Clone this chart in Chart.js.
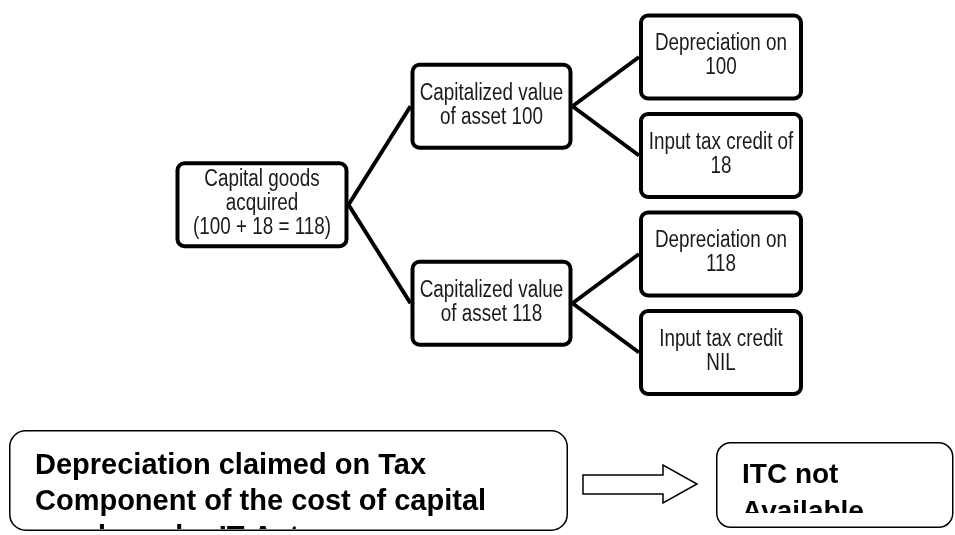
<!DOCTYPE html>
<html>
<head>
<meta charset="utf-8">
<script src="https://cdn.jsdelivr.net/npm/chart.js@4/dist/chart.umd.min.js"></script>
<style>
  html, body { margin: 0; padding: 0; background: #fff; }
  #wrap { width: 955px; height: 535px; }
</style>
</head>
<body>
<div id="wrap"><canvas id="treeChart"></canvas></div>
<script>
// Tree nodes
const nodeLabels = [
  ["Capital goods", "acquired", "(100 + 18 = 118)"],
  ["Capitalized value", "of asset 100"],
  ["Capitalized value", "of asset 118"],
  ["Depreciation on", "100"],
  ["Input tax credit of", "18"],
  ["Depreciation on", "118"],
  ["Input tax credit", "NIL"]
];
const nodeLevel = [0, 1, 1, 2, 2, 2, 2];
const nodeRow = [1.5, 0.5, 2.5, 0, 1, 2, 3];
const nodeParent = [null, 0, 0, 1, 1, 2, 2];

// Note under the tree
const noteFrom = ["Depreciation claimed on Tax", "Component of the cost of capital", "goods under IT Act"];
const noteTo = ["ITC not", "Available"];

const boxW = [173, 162, 164];
const boxH = 87;

const treePlugin = {
  id: "tree",
  afterDatasetsDraw(chart) {
    const ctx = chart.ctx;
    const xs = chart.scales.x, ys = chart.scales.y;
    const pos = nodeLevel.map((l, i) => ({
      x: xs.getPixelForValue(l),
      y: ys.getPixelForValue(nodeRow[i]),
      w: boxW[l]
    }));

    ctx.save();
    // connectors
    ctx.strokeStyle = "#000";
    ctx.lineWidth = 4;
    nodeParent.forEach((p, i) => {
      if (p === null) return;
      ctx.beginPath();
      ctx.moveTo(pos[p].x + pos[p].w / 2, pos[p].y);
      ctx.lineTo(pos[i].x - pos[i].w / 2, pos[i].y);
      ctx.stroke();
    });

    // boxes + text
    pos.forEach((b, i) => {
      ctx.beginPath();
      ctx.roundRect(b.x - b.w / 2 + 2, b.y - boxH / 2 + 2, b.w - 4, boxH - 4, 7);
      ctx.fillStyle = "#fff";
      ctx.fill();
      ctx.lineWidth = 4;
      ctx.stroke();

      const lines = nodeLabels[i];
      ctx.fillStyle = "#1a1a1a";
      ctx.font = "23px 'Liberation Sans', Arial, sans-serif";
      ctx.textAlign = "center";
      ctx.textBaseline = "middle";
      lines.forEach((t, k) => {
        const ty = b.y - 1 + (k - (lines.length - 1) / 2) * 24;
        ctx.save();
        ctx.translate(b.x, ty);
        ctx.scale(0.82, 1);
        ctx.fillText(t, 0, 0);
        ctx.restore();
      });
    });

    // bottom note: box, arrow, box
    ctx.lineWidth = 1.5;
    ctx.strokeStyle = "#000";
    ctx.beginPath();
    ctx.roundRect(9.75, 430.75, 557.5, 99.5, 16);
    ctx.stroke();
    ctx.beginPath();
    ctx.roundRect(716.75, 442.75, 236, 84.5, 14);
    ctx.stroke();

    ctx.beginPath();
    ctx.moveTo(583, 475);
    ctx.lineTo(663, 475);
    ctx.lineTo(663, 465);
    ctx.lineTo(697, 484);
    ctx.lineTo(663, 503);
    ctx.lineTo(663, 494);
    ctx.lineTo(583, 494);
    ctx.closePath();
    ctx.stroke();

    ctx.fillStyle = "#000";
    ctx.textAlign = "left";
    ctx.textBaseline = "alphabetic";
    ctx.font = "bold 29px 'Liberation Sans', Arial, sans-serif";
    ctx.save();
    ctx.beginPath();
    ctx.rect(11, 432, 555, 97);
    ctx.clip();
    noteFrom.forEach((t, k) => ctx.fillText(t, 35, 474 + k * 36));
    ctx.restore();

    ctx.save();
    ctx.beginPath();
    ctx.rect(718, 444, 234, 69);
    ctx.clip();
    ctx.font = "bold 28px 'Liberation Sans', Arial, sans-serif";
    noteTo.forEach((t, k) => ctx.fillText(t, 742, 483 + k * 37));
    ctx.restore();

    ctx.restore();
  }
};

new Chart(document.getElementById("treeChart"), {
  type: "scatter",
  data: {
    datasets: [{
      data: nodeLevel.map((l, i) => ({ x: l, y: nodeRow[i] })),
      pointRadius: 0
    }]
  },
  options: {
    responsive: true,
    maintainAspectRatio: false,
    animation: false,
    layout: { padding: 0, autoPadding: false },
    plugins: { legend: { display: false }, tooltip: { enabled: false } },
    scales: {
      x: { type: "linear", display: false, min: -1.1416, max: 3.0196 },
      y: { type: "linear", display: false, reverse: true, min: -0.5787, max: 4.8528 }
    }
  },
  plugins: [treePlugin]
});
</script>
</body>
</html>
